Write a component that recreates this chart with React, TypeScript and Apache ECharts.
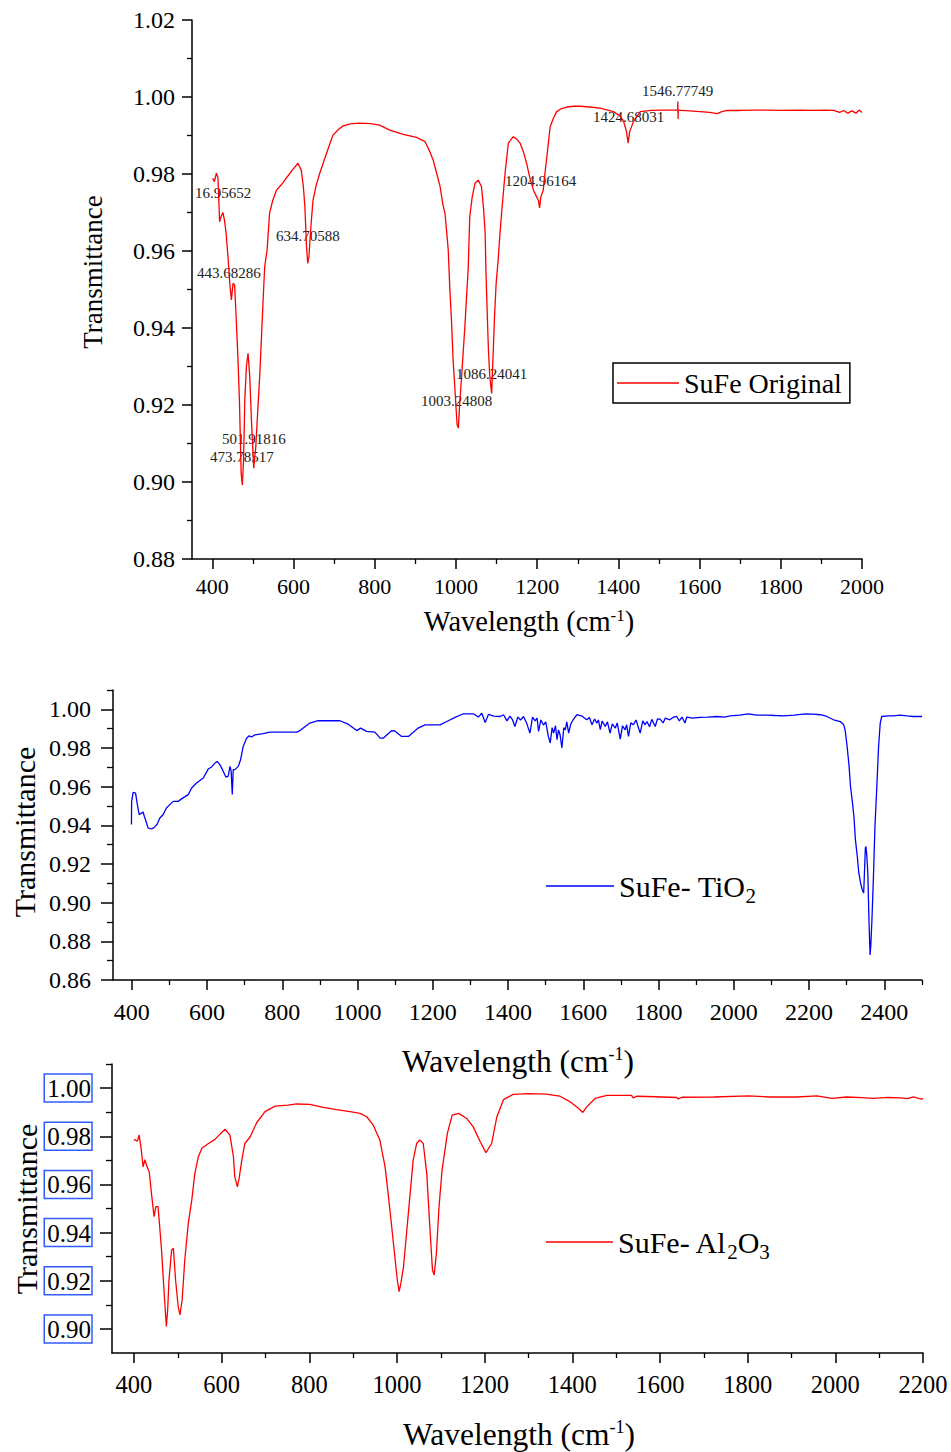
import React, { useEffect, useRef } from "react";
import * as echarts from "echarts";

const FONT = "Liberation Serif";

// ---- tick values ----
const X1_MAJOR = [400, 600, 800, 1000, 1200, 1400, 1600, 1800, 2000];
const X1_MINOR = [500, 700, 900, 1100, 1300, 1500, 1700, 1900];
const Y1_MAJOR = [0.88, 0.9, 0.92, 0.94, 0.96, 0.98, 1.0, 1.02];
const Y1_MINOR = [0.89, 0.91, 0.93, 0.95, 0.97, 0.99, 1.01];

const X2_MAJOR = [400, 600, 800, 1000, 1200, 1400, 1600, 1800, 2000, 2200, 2400];
const X2_MINOR = [500, 700, 900, 1100, 1300, 1500, 1700, 1900, 2100, 2300, 2500];
const Y2_MAJOR = [0.86, 0.88, 0.9, 0.92, 0.94, 0.96, 0.98, 1.0];
const Y2_MINOR = [0.87, 0.89, 0.91, 0.93, 0.95, 0.97, 0.99, 1.01];

const X3_MAJOR = [400, 600, 800, 1000, 1200, 1400, 1600, 1800, 2000, 2200];
const X3_MINOR = [500, 700, 900, 1100, 1300, 1500, 1700, 1900, 2100];
const Y3_MAJOR = [0.9, 0.92, 0.94, 0.96, 0.98, 1.0];
const Y3_MINOR = [0.91, 0.93, 0.95, 0.97, 0.99, 1.01];

// ---- series names ----
const NAME_ORIGINAL = "SuFe Original";
const NAME_TIO2 = "SuFe- TiO2";
const NAME_AL2O3 = "SuFe- Al2O3";

// ---- peak labels (panel 1) ----
const PEAK_LABELS = [
  "16.95652",
  "443.68286",
  "634.70588",
  "1204.96164",
  "501.91816",
  "473.78517",
  "1086.24041",
  "1003.24808",
  "1546.77749",
  "1424.68031",
];

// ---- spectra: [wavenumber, transmittance] ----
const sufeOriginal: [number, number][] = [
  [401, 0.9789], [405, 0.978], [410, 0.9802], [414, 0.979], [418, 0.9676], [422, 0.969],
  [426, 0.97], [430, 0.968], [434, 0.9646], [439, 0.958], [443, 0.9516], [447, 0.9473],
  [451, 0.9516], [455, 0.9512], [459, 0.942], [463, 0.9325], [467, 0.9205], [471, 0.9023],
  [474, 0.8992], [477, 0.906], [480, 0.9213], [484, 0.93], [488, 0.9334], [492, 0.9278],
  [496, 0.917], [502, 0.9036], [507, 0.909], [512, 0.9187], [517, 0.928], [521, 0.9374],
  [525, 0.947], [529, 0.9559], [535, 0.9603], [541, 0.9698], [549, 0.9732], [558, 0.9758],
  [570, 0.9772], [582, 0.9789], [597, 0.981], [611, 0.9828], [619, 0.981], [624, 0.977],
  [628, 0.9715], [632, 0.9611], [635, 0.9568], [638, 0.9585], [640, 0.962], [644, 0.968],
  [648, 0.9732], [656, 0.9771], [664, 0.98], [673, 0.9828], [685, 0.9865], [697, 0.9901],
  [710, 0.9915], [722, 0.9925], [740, 0.993], [763, 0.9932], [790, 0.9931], [812, 0.9927],
  [837, 0.9914], [870, 0.9903], [903, 0.9895], [924, 0.9884], [935, 0.986], [944, 0.9836],
  [953, 0.98], [961, 0.9767], [968, 0.972], [973, 0.9698], [978, 0.964], [981, 0.9603],
  [985, 0.95], [989, 0.942], [993, 0.9317], [997, 0.925], [1000, 0.9196], [1003, 0.9148],
  [1006, 0.914], [1009, 0.92], [1014, 0.9274], [1018, 0.934], [1022, 0.9403], [1026, 0.948],
  [1030, 0.955], [1034, 0.9689], [1040, 0.974], [1047, 0.9776], [1055, 0.9784], [1063, 0.9767],
  [1068, 0.971], [1072, 0.9646], [1074, 0.9543], [1077, 0.944], [1080, 0.9343], [1083, 0.928],
  [1086, 0.9248], [1088, 0.923], [1090, 0.929], [1092, 0.9343], [1095, 0.943], [1099, 0.9516],
  [1104, 0.9577], [1108, 0.964], [1113, 0.9706], [1121, 0.9802], [1129, 0.988], [1141, 0.9897],
  [1150, 0.989], [1158, 0.988], [1166, 0.9858], [1174, 0.9828], [1182, 0.979], [1191, 0.9758],
  [1199, 0.974], [1203, 0.9732], [1206, 0.9712], [1209, 0.974], [1215, 0.9758], [1219, 0.98],
  [1224, 0.9845], [1232, 0.9923], [1240, 0.9945], [1248, 0.9962], [1260, 0.997], [1273, 0.9974],
  [1290, 0.9976], [1306, 0.9976], [1330, 0.9974], [1355, 0.9971], [1388, 0.9962], [1405, 0.995],
  [1413, 0.9936], [1420, 0.991], [1424, 0.988], [1428, 0.991], [1437, 0.9936], [1454, 0.9962],
  [1480, 0.9965], [1503, 0.9966], [1530, 0.9966], [1546, 0.9966], [1546.5, 0.9988], [1547, 0.9943],
  [1547.5, 0.9966], [1575, 0.9964], [1601, 0.9962], [1625, 0.996], [1643, 0.9957], [1655, 0.9962],
  [1668, 0.9965], [1700, 0.9965], [1735, 0.9966], [1766, 0.9966], [1800, 0.9965], [1848, 0.9966],
  [1880, 0.9965], [1910, 0.9966], [1930, 0.9965], [1945, 0.996], [1955, 0.9965], [1965, 0.9958],
  [1975, 0.9964], [1985, 0.9958], [1993, 0.9966], [2000, 0.996],
];

const sufeTiO2: [number, number][] = [
  [399, 0.9404], [399.5, 0.9524], [403.5, 0.957], [410, 0.9567], [414, 0.9516], [419.5, 0.9455],
  [426, 0.9464], [430, 0.9469], [433.5, 0.9445], [439, 0.9413], [443, 0.9387], [452, 0.9381],
  [458, 0.9387], [467, 0.9404], [474.5, 0.9438], [483, 0.9455], [492, 0.949], [501, 0.9507],
  [510, 0.9524], [523, 0.9524], [536, 0.9542], [550, 0.9559], [559, 0.9593], [572, 0.9619],
  [590, 0.9645], [603, 0.9691], [612, 0.9702], [621, 0.9722], [627, 0.973], [634, 0.9714],
  [641, 0.9688], [650, 0.965], [656, 0.9653], [661, 0.9705], [664, 0.9679], [667, 0.9559],
  [669.5, 0.9688], [674, 0.9688], [683, 0.9705], [689, 0.9739], [696, 0.9808], [705, 0.9851],
  [712, 0.9863], [718, 0.9857], [727, 0.9868], [749, 0.9874], [767, 0.9882], [794, 0.9882],
  [838, 0.9882], [847, 0.989], [873, 0.9929], [895, 0.9941], [953, 0.9941], [975, 0.9923],
  [998, 0.989], [1008, 0.9903], [1024, 0.9886], [1046, 0.9882], [1060, 0.9851], [1068, 0.9851],
  [1091, 0.989], [1099, 0.9888], [1117, 0.986], [1135, 0.986], [1161, 0.9903], [1179, 0.992],
  [1219, 0.992], [1237, 0.9937], [1259, 0.9958], [1281, 0.9977], [1308, 0.9977], [1321, 0.996],
  [1330, 0.998], [1339, 0.9932], [1348, 0.9974], [1362, 0.9965], [1379, 0.9963], [1388, 0.9972],
  [1397, 0.994], [1405, 0.9965], [1412, 0.9945], [1418, 0.9911], [1426, 0.996], [1433, 0.9945],
  [1441, 0.9963], [1450, 0.9925], [1458, 0.9877], [1465, 0.996], [1472, 0.994], [1477, 0.9955],
  [1481, 0.9886], [1487, 0.9945], [1494, 0.9919], [1500, 0.9935], [1507, 0.986], [1512, 0.9826],
  [1517, 0.9905], [1521, 0.9877], [1526, 0.9915], [1530, 0.9843], [1534, 0.9894], [1538, 0.987],
  [1543, 0.98], [1548, 0.9905], [1552, 0.9894], [1556, 0.9935], [1561, 0.9877], [1566, 0.992],
  [1570, 0.9937], [1576, 0.9955], [1583, 0.9972], [1596, 0.9965], [1609, 0.9946], [1616, 0.9958],
  [1623, 0.992], [1630, 0.995], [1636, 0.9929], [1640, 0.9945], [1645, 0.9895], [1650, 0.994],
  [1658, 0.9911], [1664, 0.9935], [1671, 0.9877], [1677, 0.9925], [1685, 0.9903], [1690, 0.993],
  [1698, 0.9846], [1704, 0.9915], [1711, 0.9894], [1715, 0.992], [1720, 0.986], [1726, 0.993],
  [1733, 0.992], [1740, 0.9945], [1751, 0.9877], [1758, 0.994], [1764, 0.992], [1769, 0.9937],
  [1776, 0.991], [1782, 0.9948], [1791, 0.9911], [1797, 0.995], [1804, 0.9949], [1812, 0.993],
  [1818, 0.9955], [1830, 0.9946], [1838, 0.9958], [1848, 0.9963], [1855, 0.994], [1862, 0.996],
  [1870, 0.9929], [1875, 0.996], [1890, 0.9955], [1910, 0.9958], [1930, 0.996], [1955, 0.9963],
  [1975, 0.996], [1990, 0.9966], [2015, 0.997], [2039, 0.9977], [2060, 0.997], [2089, 0.997],
  [2110, 0.9968], [2133, 0.9966], [2160, 0.997], [2190, 0.9977], [2210, 0.9975], [2230, 0.9972],
  [2247, 0.9963], [2265, 0.9946], [2283, 0.9937], [2292, 0.992], [2296, 0.989], [2301, 0.9808],
  [2306, 0.971], [2310, 0.9602], [2315, 0.952], [2319, 0.9447], [2323, 0.9326], [2328, 0.924],
  [2332, 0.9155], [2337, 0.91], [2341, 0.9068], [2345, 0.905], [2347, 0.915], [2349.5, 0.9284],
  [2351, 0.929], [2353, 0.925], [2356, 0.9155], [2359, 0.8913], [2362, 0.873], [2364, 0.878],
  [2367, 0.8913], [2371, 0.9137], [2375, 0.9395], [2380, 0.9602], [2384.6, 0.9808], [2389, 0.9929],
  [2393, 0.9963], [2410, 0.9966], [2424, 0.9966], [2442, 0.997], [2460, 0.9966], [2477, 0.9963],
  [2500, 0.9963],
];

const sufeAl2O3: [number, number][] = [
  [400, 0.9787], [404, 0.9783], [408, 0.978], [412, 0.9805], [416, 0.9755], [421, 0.9673],
  [425, 0.9703], [430, 0.9673], [435, 0.9652], [440, 0.9563], [446, 0.9466], [450, 0.9508],
  [455, 0.9508], [459, 0.942], [463, 0.9328], [469, 0.9148], [474, 0.901], [477, 0.908],
  [480, 0.9203], [486, 0.9328], [490, 0.9335], [495, 0.9203], [501, 0.9093], [505, 0.9058],
  [510, 0.912], [516, 0.9286], [524, 0.9438], [532, 0.9535], [539, 0.9646], [547, 0.9715],
  [555, 0.975], [570, 0.977], [585, 0.9787], [597, 0.981], [608, 0.9829], [619, 0.9805],
  [627, 0.9715], [630, 0.9632], [636, 0.959], [640, 0.9625], [646, 0.97], [653, 0.977],
  [665, 0.9797], [680, 0.9856], [699, 0.9902], [722, 0.9925], [752, 0.9929], [771, 0.9934],
  [801, 0.9932], [832, 0.992], [862, 0.9911], [893, 0.9902], [916, 0.9895], [931, 0.9881],
  [946, 0.9846], [961, 0.9784], [973, 0.9673], [984, 0.9494], [996, 0.9286], [1001, 0.92],
  [1005, 0.9155], [1009, 0.919], [1015, 0.9258], [1026, 0.948], [1037, 0.9701], [1045, 0.977],
  [1052, 0.9785], [1060, 0.977], [1068, 0.9646], [1075, 0.9424], [1081, 0.9245], [1085, 0.9224],
  [1090, 0.9314], [1096, 0.9508], [1103, 0.966], [1115, 0.9812], [1126, 0.9888], [1141, 0.9895],
  [1159, 0.9874], [1174, 0.9839], [1190, 0.9777], [1203, 0.9732], [1216, 0.977], [1228, 0.9881],
  [1243, 0.9952], [1265, 0.9974], [1300, 0.9977], [1341, 0.9975], [1371, 0.9967], [1395, 0.9943],
  [1414, 0.9916], [1424, 0.9899], [1433, 0.9922], [1452, 0.9957], [1479, 0.997], [1535, 0.997],
  [1539, 0.9959], [1547, 0.9966], [1590, 0.9964], [1638, 0.9961], [1642, 0.9955], [1650, 0.9962],
  [1722, 0.9963], [1802, 0.9968], [1851, 0.9963], [1912, 0.9963], [1958, 0.9968], [1992, 0.9957],
  [2026, 0.9963], [2060, 0.996], [2087, 0.9957], [2120, 0.9961], [2148, 0.9959], [2165, 0.9956],
  [2178, 0.9963], [2190, 0.9957], [2197, 0.9954], [2200, 0.9957],
];

const BLACK = "#000";

function mainAxis(
  gridIndex: number,
  min: number,
  max: number,
  position: string,
  ticks: number[],
  tickLen: number,
  fontSize: number,
  margin: number,
  decimals: number,
  extraLabel: any = {}
) {
  return {
    type: "value",
    gridIndex,
    min,
    max,
    position,
    axisLine: { show: true, onZero: false, lineStyle: { color: BLACK, width: 1.5 } },
    axisTick: { show: true, customValues: ticks, length: tickLen, lineStyle: { color: BLACK, width: 1.5 } },
    axisLabel: {
      customValues: ticks,
      margin,
      color: BLACK,
      fontFamily: FONT,
      fontSize,
      formatter: (v: number) => "{t|" + v.toFixed(decimals) + "}",
      rich: { t: { fontFamily: FONT, fontSize, color: BLACK } },
      ...extraLabel,
    },
    splitLine: { show: false },
  };
}

function minorAxis(gridIndex: number, min: number, max: number, position: string, ticks: number[], tickLen: number) {
  return {
    type: "value",
    gridIndex,
    min,
    max,
    position,
    axisLine: { show: false, onZero: false },
    axisTick: { show: true, customValues: ticks, length: tickLen, lineStyle: { color: BLACK, width: 1.3 } },
    axisLabel: { show: false },
    splitLine: { show: false },
  };
}

function xTitle(x: number, y: number, size: number, supSize: number) {
  return {
    type: "text",
    x,
    y,
    silent: true,
    style: {
      text: "{a|Wavelength (cm}{s|-1}{a|)}",
      align: "center",
      verticalAlign: "middle",
      fontFamily: FONT,
      rich: {
        a: { fontSize: size, fontFamily: FONT, fill: BLACK },
        s: { fontSize: supSize, fontFamily: FONT, fill: BLACK, verticalAlign: "top", padding: [0, 0, 11, 0] },
      },
    },
  };
}

function yTitle(x: number, y: number, size: number) {
  return {
    type: "text",
    x,
    y,
    rotation: Math.PI / 2,
    silent: true,
    style: {
      text: "Transmittance",
      fontSize: size,
      fontFamily: FONT,
      fill: BLACK,
      align: "center",
      verticalAlign: "middle",
    },
  };
}

const PEAK_POS: [number, number][] = [
  [195, 193],
  [197, 273],
  [276, 236],
  [505, 181],
  [222, 439],
  [210, 457],
  [456, 374],
  [421, 401],
  [642, 91],
  [593, 117],
];

const subRich = {
  a: { fontSize: 30, fontFamily: FONT, color: BLACK },
  b: { fontSize: 21, fontFamily: FONT, color: BLACK, padding: [20, 0, 0, 0] },
};

const option: any = {
  animation: false,
  backgroundColor: "#fff",
  textStyle: { fontFamily: FONT },
  grid: [
    { left: 192, top: 20, width: 670, height: 539 },
    { left: 113, top: 690, width: 809, height: 290 },
    { left: 112, top: 1064, width: 811, height: 289 },
  ],
  xAxis: [
    mainAxis(0, 350, 2000, "bottom", X1_MAJOR, 10, 22, 16, 0),
    minorAxis(0, 350, 2000, "bottom", X1_MINOR, 5),
    mainAxis(1, 350, 2500, "bottom", X2_MAJOR, 10, 24, 20, 0),
    minorAxis(1, 350, 2500, "bottom", X2_MINOR, 5),
    mainAxis(2, 350, 2200, "bottom", X3_MAJOR, 10, 24.5, 19, 0),
    minorAxis(2, 350, 2200, "bottom", X3_MINOR, 5),
  ],
  yAxis: [
    mainAxis(0, 0.88, 1.02, "left", Y1_MAJOR, 10, 24, 17, 2),
    minorAxis(0, 0.88, 1.02, "left", Y1_MINOR, 5),
    mainAxis(1, 0.86, 1.01, "left", Y2_MAJOR, 12, 24, 22, 2),
    minorAxis(1, 0.86, 1.01, "left", Y2_MINOR, 6),
    mainAxis(2, 0.89, 1.01, "left", Y3_MAJOR, 12, 25, 20, 2, {
      borderColor: "#2f5cff",
      borderWidth: 1.5,
      padding: [2, 1, 1, 3],
    }),
    minorAxis(2, 0.89, 1.01, "left", Y3_MINOR, 6),
  ],
  legend: [
    {
      data: [NAME_ORIGINAL],
      left: 613,
      top: 363,
      icon: "rect",
      itemWidth: 62,
      itemHeight: 1.5,
      padding: [6, 8, 6, 4],
      borderColor: BLACK,
      borderWidth: 1.5,
      selectedMode: false,
      formatter: (n: string) => "{a|" + n + "}",
      textStyle: {
        fontFamily: FONT,
        fontSize: 28,
        color: BLACK,
        rich: { a: { fontSize: 28, fontFamily: FONT, color: BLACK } },
      },
    },
    {
      data: [NAME_TIO2],
      left: 546,
      top: 871,
      icon: "rect",
      itemWidth: 68,
      itemHeight: 1.5,
      padding: 0,
      selectedMode: false,
      formatter: () => "{a|SuFe- TiO}{b|2}",
      textStyle: { fontFamily: FONT, fontSize: 30, color: BLACK, rich: subRich },
    },
    {
      data: [NAME_AL2O3],
      left: 546,
      top: 1227,
      icon: "rect",
      itemWidth: 67,
      itemHeight: 1.5,
      padding: 0,
      selectedMode: false,
      formatter: () => "{a|SuFe- Al}{b|2}{a|O}{b|3}",
      textStyle: { fontFamily: FONT, fontSize: 30, color: BLACK, rich: subRich },
    },
  ],
  series: [
    {
      name: NAME_ORIGINAL,
      type: "line",
      xAxisIndex: 0,
      yAxisIndex: 0,
      data: sufeOriginal,
      showSymbol: false,
      symbol: "none",
      lineStyle: { color: "#ff0000", width: 1.3 },
      itemStyle: { color: "#ff0000" },
    },
    {
      name: NAME_TIO2,
      type: "line",
      xAxisIndex: 2,
      yAxisIndex: 2,
      data: sufeTiO2,
      showSymbol: false,
      symbol: "none",
      lineStyle: { color: "#0000ff", width: 1.3 },
      itemStyle: { color: "#0000ff" },
    },
    {
      name: NAME_AL2O3,
      type: "line",
      xAxisIndex: 4,
      yAxisIndex: 4,
      data: sufeAl2O3,
      showSymbol: false,
      symbol: "none",
      lineStyle: { color: "#ff0000", width: 1.3 },
      itemStyle: { color: "#ff0000" },
    },
  ],
  graphic: [
    yTitle(93, 272, 27),
    xTitle(529, 621, 28.5, 17),
    yTitle(24, 832, 30),
    xTitle(518, 1061, 31.5, 18),
    yTitle(26, 1209, 30),
    xTitle(519, 1434, 31.5, 18),
    ...PEAK_LABELS.map((t, i) => ({
      type: "text",
      x: PEAK_POS[i][0],
      y: PEAK_POS[i][1],
      silent: true,
      style: { text: t, fontSize: 15, fontFamily: FONT, fill: "#222", align: "left", verticalAlign: "middle" },
    })),
  ],
};

export default function App() {
  const ref = useRef<HTMLDivElement>(null);
  useEffect(() => {
    if (!ref.current) return;
    const chart = echarts.init(ref.current, undefined, { renderer: "svg" });
    chart.setOption(option);
    return () => chart.dispose();
  }, []);
  return (
    <div
      ref={ref}
      style={{ position: "absolute", left: 0, top: 0, width: 951, height: 1452, background: "#fff" }}
    />
  );
}
